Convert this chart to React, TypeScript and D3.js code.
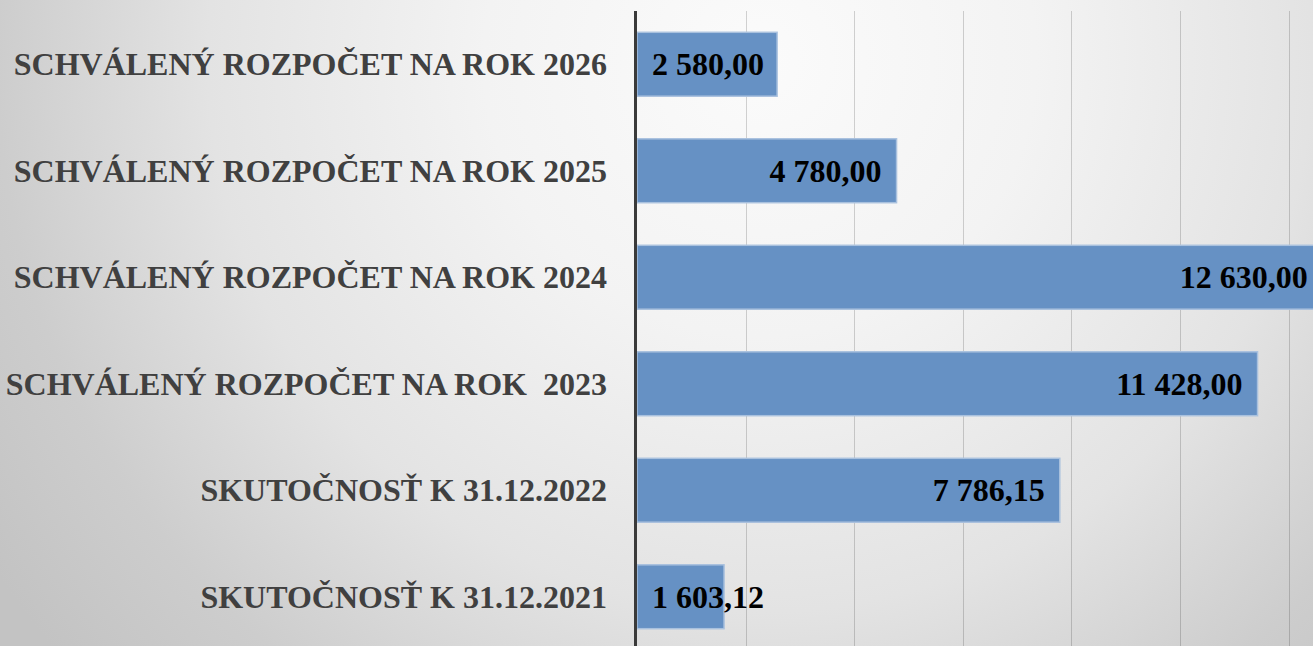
import React, { useEffect, useRef } from 'react';
import * as d3 from 'd3';

// poradie zhora nadol
const categories = [
  'SCHVÁLENÝ ROZPOČET NA ROK 2026',
  'SCHVÁLENÝ ROZPOČET NA ROK 2025',
  'SCHVÁLENÝ ROZPOČET NA ROK 2024',
  'SCHVÁLENÝ ROZPOČET NA ROK  2023',
  'SKUTOČNOSŤ K 31.12.2022',
  'SKUTOČNOSŤ K 31.12.2021',
];
const values = [2580, 4780, 12630, 11428, 7786.15, 1603.12];
const gridTicks = [0, 2000, 4000, 6000, 8000, 10000, 12000, 14000];

const W = 1313;
const H = 646;

function drawChart(svgRef: React.RefObject<SVGSVGElement>) {
  const svg = d3.select(svgRef.current);
  svg.selectAll('*').remove();
  svg.attr('width', W).attr('height', H);

  const defs = svg.append('defs');
  const grad = defs
    .append('radialGradient')
    .attr('id', 'bg')
    .attr('gradientUnits', 'userSpaceOnUse')
    .attr('cx', 760)
    .attr('cy', 60)
    .attr('r', 920);
  const stops: [number, string][] = [
    [0, '#fbfbfb'],
    [0.3, '#f3f3f3'],
    [0.6, '#e3e3e3'],
    [0.83, '#cdcdcd'],
    [1, '#c3c3c3'],
  ];
  stops.forEach(([o, c]) => grad.append('stop').attr('offset', o).attr('stop-color', c));

  svg.append('rect').attr('width', W).attr('height', H).attr('fill', 'url(#bg)');

  const x0 = 637;
  const x = d3.scaleLinear().domain([0, 14000]).range([x0, x0 + 7 * 108.6]);
  const y = d3.scaleBand().domain(categories).range([11, 650]).paddingInner(0.4).paddingOuter(0.2);

  const fmt = d3.formatLocale({ decimal: ',', thousands: ' ', grouping: [3], currency: ['', ' €'] }).format(',.2f');

  // mriežka
  svg
    .append('g')
    .selectAll('line')
    .data(gridTicks.slice(1))
    .join('line')
    .attr('x1', d => Math.round(x(d)) + 0.5)
    .attr('x2', d => Math.round(x(d)) + 0.5)
    .attr('y1', 11)
    .attr('y2', H)
    .attr('stroke', 'rgba(0,0,0,0.17)')
    .attr('stroke-width', 1);

  svg
    .append('g')
    .selectAll('rect')
    .data(values)
    .join('rect')
    .attr('x', x(0))
    .attr('y', (d, i) => y(categories[i])!)
    .attr('width', d => x(d) - x(0))
    .attr('height', y.bandwidth())
    .attr('fill', '#6691c4')
    .attr('stroke', '#a9c1de')
    .attr('stroke-width', 1.5);

  // os
  svg
    .append('line')
    .attr('x1', 635.5)
    .attr('x2', 635.5)
    .attr('y1', 11)
    .attr('y2', H)
    .attr('stroke', '#3a3a3a')
    .attr('stroke-width', 3);

  svg
    .append('g')
    .selectAll('text')
    .data(categories)
    .join('text')
    .attr('x', 607)
    .attr('y', d => y(d)! + y.bandwidth() / 2)
    .attr('dy', '0.35em')
    .attr('text-anchor', 'end')
    .attr('fill', '#404040')
    .style('font-family', '"Liberation Serif", "Times New Roman", serif')
    .style('font-weight', 'bold')
    .style('font-size', '32px')
    .style('white-space', 'pre')
    .text(d => d);

  const vals = svg
    .append('g')
    .selectAll('text')
    .data(values)
    .join('text')
    .attr('y', (d, i) => y(categories[i])! + y.bandwidth() / 2)
    .attr('dy', '0.35em')
    .attr('fill', '#000')
    .style('font-family', '"Liberation Serif", "Times New Roman", serif')
    .style('font-weight', 'bold')
    .style('font-size', '32px')
    .text(d => fmt(d));

  vals.each(function (d) {
    const t = this as SVGTextElement;
    const len = t.getComputedTextLength();
    const end = x(d) - 15;
    const start = Math.max(x0 + 15, end - len);
    d3.select(t).attr('x', start);
  });
}

const App = () => {
  const svg = useRef<SVGSVGElement>(null);

  useEffect(() => {
    drawChart(svg);
  }, [svg]);

  return (
    <div style={{ position: 'absolute', left: 0, top: 0, width: W, height: H, overflow: 'hidden' }}>
      <svg ref={svg} style={{ display: 'block' }} />
    </div>
  );
};

export default App;
